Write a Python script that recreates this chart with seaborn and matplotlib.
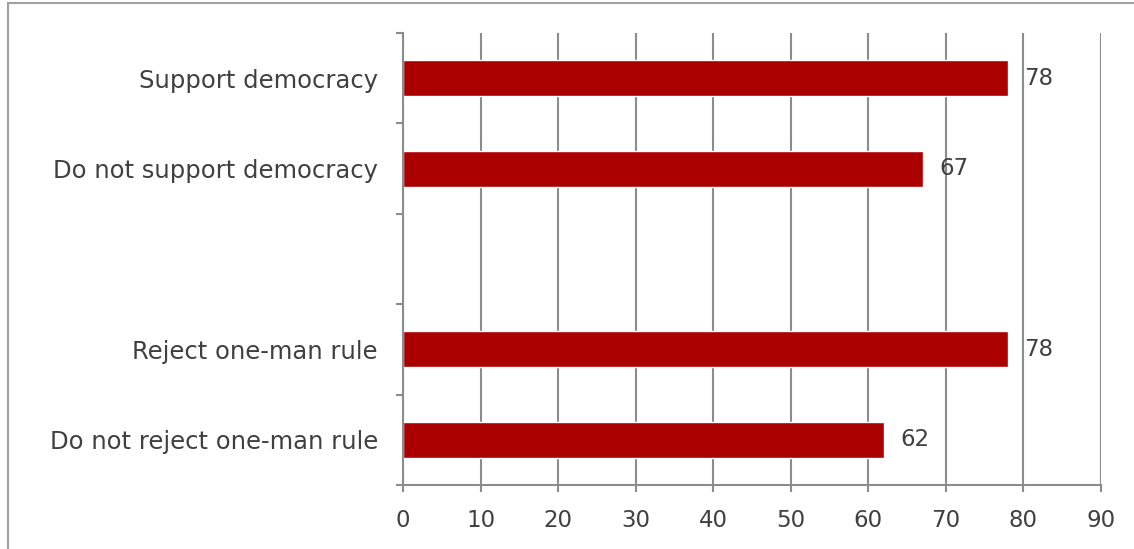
import matplotlib
matplotlib.use("Agg")
import matplotlib.pyplot as plt
import seaborn as sns
import pandas as pd
import numpy as np
from matplotlib.patches import Rectangle

categories = ["Support democracy", "Do not support democracy", "",
              "Reject one-man rule", "Do not reject one-man rule"]
values = [78, 67, np.nan, 78, 62]
label_values = [78, 67, None, 78, 62]
xticks = [0, 10, 20, 30, 40, 50, 60, 70, 80, 90]

sns.set_theme(style="white")
plt.rcParams['font.family'] = ['DejaVu Sans']

text_color = "#404040"
grid_color = "#8c8c8c"
bar_color = "#AA0000"
fs = 17.5
fs_num = 16.5

df = pd.DataFrame({"cat": categories, "val": values})

fig = plt.figure(figsize=(11.34, 5.49), dpi=100)
ax = fig.add_axes([403/1134, 1-485/549, (1101-403)/1134, (485-33)/549])

sns.barplot(data=df, y="cat", x="val", order=categories, color=bar_color,
            width=0.4, saturation=1, ax=ax, orient="h")

ax.set_xlim(0, 90)
ax.set_ylim(4.5, -0.5)
ax.set_xticks(xticks)
ax.set_xticklabels([str(t) for t in xticks])
ax.set_xlabel("")
ax.set_ylabel("")

ax.xaxis.grid(True, color=grid_color, linewidth=1.5)
ax.set_axisbelow(True)

for s in ["top", "right"]:
    ax.spines[s].set_visible(False)
for s in ["left", "bottom"]:
    ax.spines[s].set_color(grid_color)
    ax.spines[s].set_linewidth(1.5)

ax.tick_params(axis="x", which="major", direction="out", length=5, width=1.5,
               color=grid_color, labelsize=fs_num, labelcolor=text_color, pad=12, bottom=True)
ax.tick_params(axis="y", which="major", length=0, labelsize=fs,
               labelcolor=text_color, pad=18)
ax.set_yticks(np.arange(-0.5, 5.0, 1.0), minor=True)
ax.tick_params(axis="y", which="minor", direction="out", length=5, width=1.5,
               color=grid_color, left=True)

for i, v in enumerate(label_values):
    if v is None:
        continue
    ax.annotate(str(v), xy=(v, i), xytext=(12, 0), textcoords="offset points",
                va="center", ha="left", fontsize=fs_num, color=text_color)

# outer frame
fig.patches.append(Rectangle((8/1134, -0.1), 1.2, 1-3/549+0.1,
                             transform=fig.transFigure, fill=False,
                             edgecolor="#a0a0a0", linewidth=1.5))

fig.savefig("out.png", dpi=100)
